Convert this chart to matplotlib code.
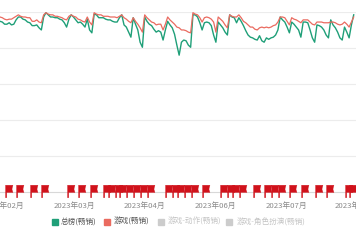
import numpy as np
import matplotlib
matplotlib.use('Agg')
import matplotlib.pyplot as plt
from matplotlib.path import Path

plt.rcParams['font.family'] = ['Noto Sans CJK SC', 'DejaVu Sans']

# daily rank (smaller = better), one value per day
total_rank = [13, 14, 17, 17, 15, 18, 17, 11, 7, 7, 10, 11, 14, 15, 19, 19, 18, 22, 25, 7,
              1, 4, 7, 7, 8, 8, 10, 11, 15, 21, 10, 4, 7, 11, 15, 14, 17, 21, 10, 25,
              29, 3, 4, 8, 8, 8, 10, 11, 11, 13, 14, 14, 8, 4, 18, 21, 28, 35, 8, 17,
              25, 42, 49, 7, 13, 17, 19, 24, 28, 26, 28, 39, 25, 13, 18, 22, 31, 46, 60, 42,
              39, 40, 46, 49, 4, 4, 7, 15, 25, 15, 14, 15, 19, 32, 42, 14, 18, 22, 28, 32,
              4, 7, 8, 15, 8, 13, 19, 26, 32, 35, 36, 38, 39, 33, 40, 42, 36, 38, 36, 35,
              32, 25, 7, 11, 14, 21, 29, 14, 17, 21, 25, 35, 14, 14, 15, 25, 36, 42, 18, 19,
              21, 25, 32, 36, 11, 18, 22, 28, 36, 39, 21, 28, 36, 18, 4]
game_rank = [7, 8, 10, 11, 10, 10, 8, 6, 4, 6, 7, 7, 8, 8, 13, 13, 11, 14, 15, 4,
             1, 3, 4, 4, 6, 6, 7, 8, 10, 11, 6, 4, 6, 7, 10, 11, 13, 14, 7, 14,
             18, 1, 3, 4, 4, 6, 6, 6, 7, 7, 7, 8, 6, 4, 8, 10, 13, 15, 8, 13,
             17, 22, 28, 4, 8, 11, 14, 15, 18, 17, 17, 25, 17, 7, 11, 14, 17, 21, 22, 25,
             25, 26, 28, 29, 1, 3, 4, 8, 14, 8, 7, 8, 10, 14, 28, 7, 10, 13, 18, 22,
             4, 6, 7, 7, 4, 8, 13, 15, 18, 21, 21, 24, 25, 22, 21, 22, 21, 22, 21, 19,
             18, 14, 7, 7, 8, 13, 18, 8, 10, 11, 13, 15, 11, 11, 11, 14, 17, 18, 14, 14,
             14, 15, 15, 15, 14, 14, 15, 17, 18, 17, 14, 17, 21, 14, 7]
# days with an event flag
event_days = [2, 7, 13, 18, 29, 34, 39, 45, 47, 50, 52, 55, 58, 61, 64, 72, 75, 77, 80, 83,
              88, 96, 99, 101, 104, 110, 115, 118, 121, 126, 131, 137, 142, 150, 152]
tick_days = [1.7, 32.4, 62.7, 93.9, 124.6, 154.8]
tick_labels = ['2023年02月', '2023年03月', '2023年04月', '2023年06月', '2023年07月', '2023年08月']
legend_names = ['总榜(畅销)', '游戏(畅销)', '游戏-动作(畅销)', '游戏-角色扮演(畅销)']

green = '#1f9f78'
red = '#ea6b60'

fig = plt.figure(figsize=(3.56, 2.44), dpi=100)
ax = fig.add_axes([0, 0.213, 1, 0.738])

days = np.arange(len(total_rank))
ax.plot(days, total_rank, color=green, lw=1.0, zorder=3)
ax.plot(days, game_rank, color=red, lw=0.9, zorder=4)

ax.set_xlim(0, 155)
ax.set_ylim(250, 0)
ax.set_yticks([0, 50, 100, 150, 200])
ax.grid(axis='y', color='#ececec', lw=0.8)
ax.tick_params(axis='y', left=False, labelleft=False)
ax.set_xticks(tick_days)
ax.set_xticklabels(tick_labels, fontsize=5.6, color='#8a8a8a')
ax.tick_params(axis='x', length=0, pad=7)
for s in ['top', 'right', 'left']:
    ax.spines[s].set_visible(False)
ax.spines['bottom'].set_color('#d8d8d8')
ax.spines['bottom'].set_linewidth(0.8)

# flag marker: pole bottom hangs below the axis
flag = Path([(0, -5), (0, 7), (7.2, 7), (6.2, 3.2), (7.2, 0), (1.2, 0), (1.2, -5), (0, -5)],
            [Path.MOVETO] + [Path.LINETO] * 6 + [Path.CLOSEPOLY])
ax.plot(event_days, [250] * len(event_days), ls='none', marker=flag, ms=10.8,
        color='#d0121b', mec='#d0121b', mew=0.2, clip_on=False, zorder=5)

# legend
colors = [green, red, '#cccccc', '#cccccc']
text_colors = ['#555555', '#555555', '#c4c4c4', '#c4c4c4']
box_x = [55, 107, 161, 229]
txt_x = [61, 114, 168, 237]
for n, c, tc, bx, tx in zip(legend_names, colors, text_colors, box_x, txt_x):
    fig.lines.append(plt.Line2D([bx / 356], [1 - 222 / 244], transform=fig.transFigure,
                                marker='s', ms=5, color=c, ls='none'))
    fig.text(tx / 356, 1 - 222 / 244, n, fontsize=5.5, color=tc, va='center', ha='left')

fig.savefig('out.png', dpi=100)
